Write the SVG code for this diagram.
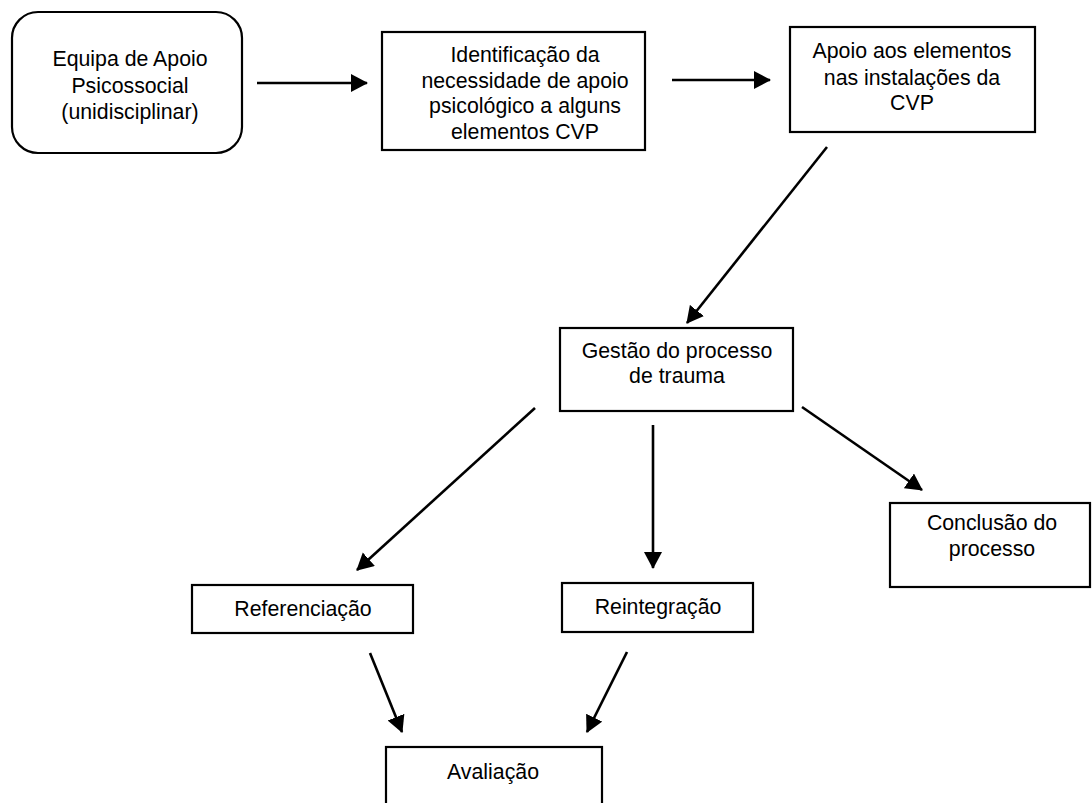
<svg xmlns="http://www.w3.org/2000/svg" width="1092" height="803" viewBox="0 0 1092 803">
<defs>
<style>
.box{fill:#fff;stroke:#000;stroke-width:2.2}
.t{font-family:"Liberation Sans",Arial,sans-serif;font-size:21.3px;fill:#000;text-anchor:middle}
.c{stroke:#000;stroke-width:2.6;fill:none}
</style>
<marker id="ah" markerUnits="userSpaceOnUse" markerWidth="19" markerHeight="19" refX="16" refY="9" orient="auto" viewBox="0 0 19 19">
<path d="M0,0 L17,9 L0,18 z" fill="#000"/>
</marker>
</defs>
<rect width="1092" height="803" fill="#fff"/>
<g id="n1">
<rect class="box" x="12" y="12" width="230" height="141" rx="26"/>
<text class="t" x="130" y="66">Equipa de Apoio</text>
<text class="t" x="130" y="93">Psicossocial</text>
<text class="t" x="130" y="119">(unidisciplinar)</text>
</g>
<g id="n2">
<rect class="box" x="382" y="32" width="263" height="118"/>
<text class="t" x="525" y="62">Identificação da</text>
<text class="t" x="525" y="88">necessidade de apoio</text>
<text class="t" x="525" y="113">psicológico a alguns</text>
<text class="t" x="525" y="139">elementos CVP</text>
</g>
<g id="n3">
<rect class="box" x="790" y="27" width="245" height="105"/>
<text class="t" x="912" y="58">Apoio aos elementos</text>
<text class="t" x="912" y="85">nas instalações da</text>
<text class="t" x="912" y="110">CVP</text>
</g>
<g id="n4">
<rect class="box" x="560" y="328" width="233" height="83"/>
<text class="t" x="677" y="358">Gestão do processo</text>
<text class="t" x="677" y="383">de trauma</text>
</g>
<g id="n5">
<rect class="box" x="890" y="503" width="200" height="84"/>
<text class="t" x="992" y="530">Conclusão do</text>
<text class="t" x="992" y="556">processo</text>
</g>
<g id="n6">
<rect class="box" x="192" y="585" width="221" height="48"/>
<text class="t" x="303" y="616">Referenciação</text>
</g>
<g id="n7">
<rect class="box" x="562" y="583" width="191" height="49"/>
<text class="t" x="658" y="614">Reintegração</text>
</g>
<g id="n8">
<rect class="box" x="386" y="747" width="216" height="70"/>
<text class="t" x="493" y="779">Avaliação</text>
</g>
<g id="connectors">
<line class="c" x1="257" y1="83" x2="367" y2="83" marker-end="url(#ah)"/>
<line class="c" x1="672" y1="80" x2="770" y2="80" marker-end="url(#ah)"/>
<line class="c" x1="827" y1="147" x2="687" y2="323" marker-end="url(#ah)"/>
<line class="c" x1="535" y1="408" x2="357" y2="570" marker-end="url(#ah)"/>
<line class="c" x1="653" y1="425" x2="653" y2="568" marker-end="url(#ah)"/>
<line class="c" x1="802" y1="407" x2="922" y2="490" marker-end="url(#ah)"/>
<line class="c" x1="370" y1="653" x2="402" y2="732" marker-end="url(#ah)"/>
<line class="c" x1="627" y1="652" x2="587" y2="732" marker-end="url(#ah)"/>
</g>
</svg>
